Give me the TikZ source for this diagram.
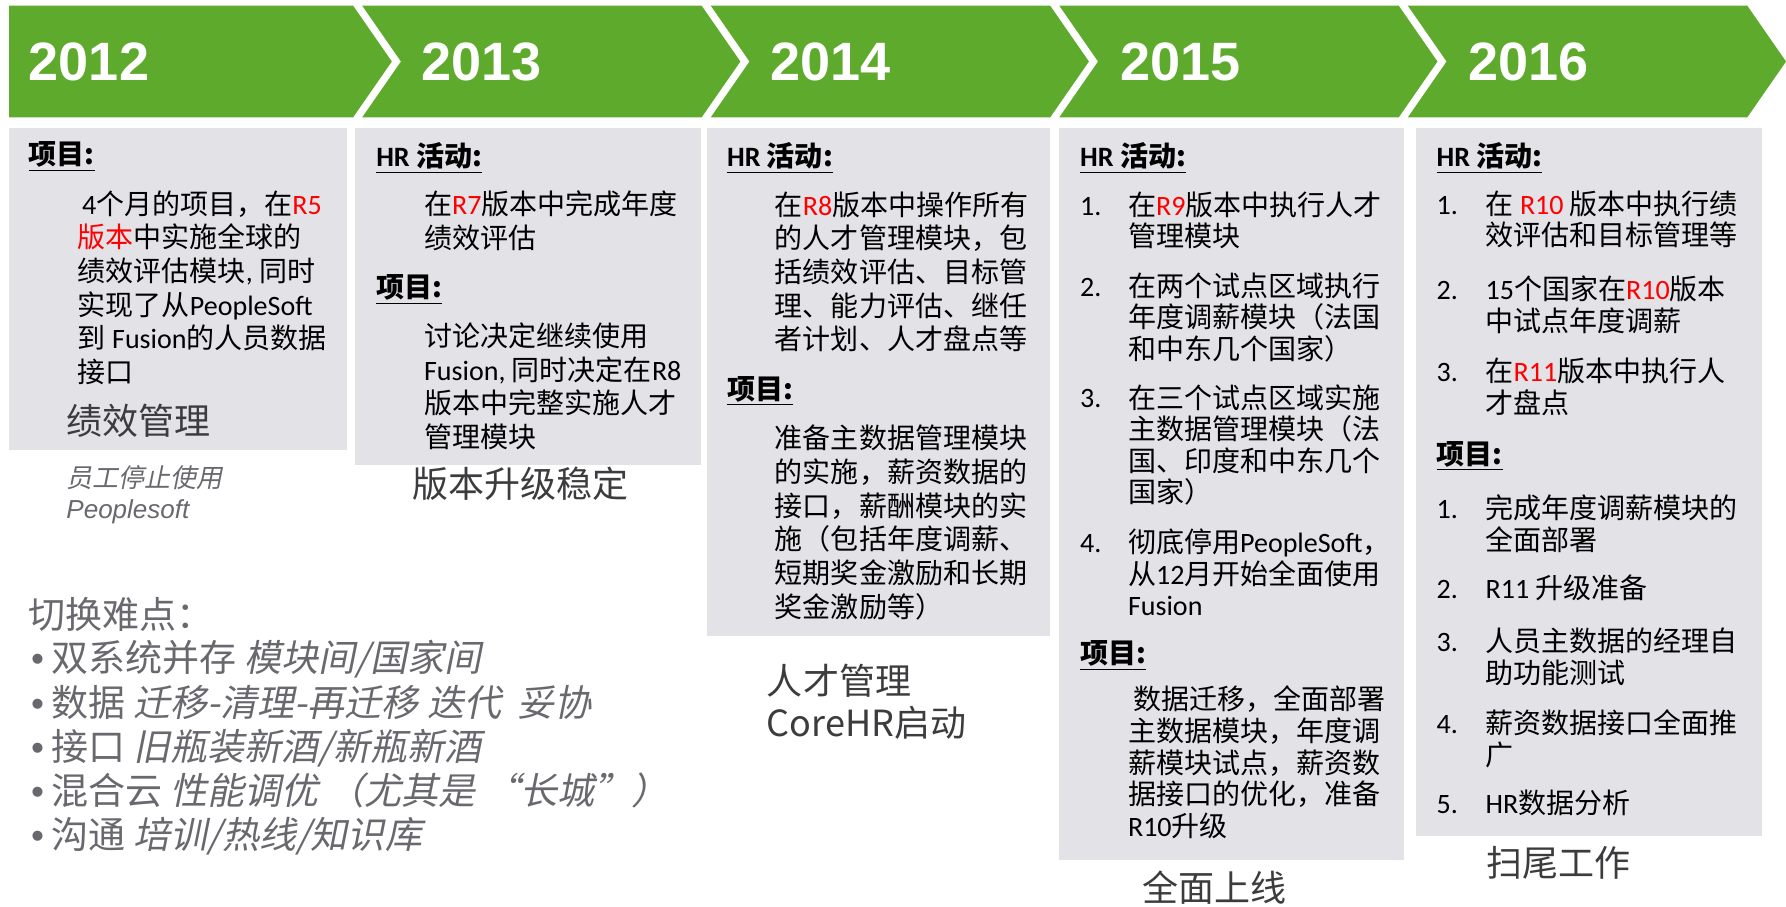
\documentclass[tikz,border=0pt]{standalone}
\usepackage{fontspec}
\usepackage{xcolor}
\setmainfont{Noto Sans CJK SC}
\newfontfamily\xieti[FakeSlant=0.2]{Noto Sans CJK SC}
\newfontfamily\calibri{Carlito}
\newfontfamily\arial{Liberation Sans}
\definecolor{lvse}{RGB}{94,170,44}
\definecolor{huise}{RGB}{226,226,231}
\definecolor{shenhui}{RGB}{60,60,62}
\definecolor{qianhui}{RGB}{104,104,110}
\newcommand{\en}[1]{{\calibri #1}}
\newcommand{\hong}[1]{{\color{red}#1}}
\newcommand{\rel}[1]{{\color{red}\calibri #1}}
\newcommand{\hao}[1]{\vphantom{在}{\calibri #1}}
\newcommand{\dian}{{\arial•}\hspace{0.2em}}

\begin{document}
\begin{tikzpicture}[x=0.02cm,y=-0.02cm,
		nianfen/.style={anchor=west,inner sep=0pt,text=white,font=\arial\bfseries\fontsize{27}{30}\selectfont},
		wenzi/.style={anchor=north west,inner sep=0pt,align=left,font=\fontsize{14}{16.8}\selectfont},
		liebiao/.style={wenzi,font=\fontsize{14}{15.8}\selectfont},
		biaoti/.style={anchor=north west,inner sep=0pt,font=\fontsize{14}{16.8}\selectfont\bfseries},
		dazi/.style={anchor=north west,inner sep=0pt,align=left,text=shenhui,font=\fontsize{18}{21}\selectfont},
		nandian/.style={anchor=north west,inner sep=0pt,align=left,text=qianhui,font=\fontsize{18.5}{22.1}\selectfont}]
		\useasboundingbox (0,0) rectangle (1568,796);
		
		\fill[lvse] (8,5) -- (310,5) -- (344,54) -- (310,103) -- (8,103) -- cycle;
		\foreach \a in {318,624,930,1236}
			\fill[lvse] (\a,5) -- ++(298,0) -- ++(34,49) -- ++(-34,49) -- ++(-298,0) -- ++(34,-49) -- cycle;
		
		\fill[huise] (8,112) rectangle (305,395);
		\fill[huise] (312,112) rectangle (615,408);
		\fill[huise] (621,112) rectangle (922,558);
		\fill[huise] (930,112) rectangle (1233,755);
		\fill[huise] (1243,112) rectangle (1547,734);
		
		\node[nianfen] (n2012) at (25,54) {2012};
		\node[nianfen] (n2013) at (370,54) {2013};
		\node[nianfen] (n2014) at (676,54) {2014};
		\node[nianfen] (n2015) at (983,54) {2015};
		\node[nianfen] (n2016) at (1289,54) {2016};
		
		\node[biaoti] (xm12) at (25,124) {\underline{项目:}};
		\node[wenzi] (xmwz12) at (68,167) {\hspace{0.15em}\en{4}个月的项目，在\rel{R5}\\\hong{版本}中实施全球的\\绩效评估模块\en{, }同时\\实现了从\en{PeopleSoft}\\到 \en{Fusion}的人员数据\\接口};
		\node[dazi] (jg12) at (58,354) {绩效管理};
		\node[anchor=north west,inner sep=0pt,align=left,text=qianhui,font=\fontsize{13}{15.9}\selectfont] (bz12) at (58,408) {{\xieti 员工停止使用}\\{\arial\itshape Peoplesoft}};
		
		\node[biaoti] (hr13) at (330,125) {\underline{\en{HR} 活动:}};
		\node[wenzi] (hrwz13) at (372,167) {在\rel{R7}版本中完成年度\\绩效评估};
		\node[biaoti] (xm13) at (330,241) {\underline{项目:}};
		\node[wenzi] (xmwz13) at (372,283) {讨论决定继续使用\\\en{Fusion, }同时决定在\en{R8}\\版本中完整实施人才\\管理模块};
		\node[dazi] (jg13) at (362,410) {版本升级稳定};
		
		\node[biaoti] (hr14) at (638,125) {\underline{\en{HR} 活动:}};
		\node[wenzi] (hrwz14) at (680,168) {在\rel{R8}版本中操作所有\\的人才管理模块，包\\括绩效评估、目标管\\理、能力评估、继任\\者计划、人才盘点等};
		\node[biaoti] (xm14) at (638,330) {\underline{项目:}};
		\node[wenzi] (xmwz14) at (680,373) {准备主数据管理模块\\的实施，薪资数据的\\接口，薪酬模块的实\\施（包括年度调薪、\\短期奖金激励和长期\\奖金激励等）};
		\node[dazi] (jg14) at (673,583) {人才管理\\CoreHR启动};
		
		\node[biaoti] (hr15) at (948,125) {\underline{\en{HR} 活动:}};
		\node[liebiao] (h15a) at (948,168) {\hao{1.}};
		\node[liebiao] (h15b) at (948,239) {\hao{2.}};
		\node[liebiao] (h15c) at (948,337) {\hao{3.}};
		\node[liebiao] (h15d) at (948,464) {\hao{4.}};
		\node[liebiao] (hw15a) at (990,168) {在\rel{R9}版本中执行人才\\管理模块};
		\node[liebiao] (hw15b) at (990,239) {在两个试点区域执行\\年度调薪模块（法国\\和中东几个国家）};
		\node[liebiao] (hw15c) at (990,337) {在三个试点区域实施\\主数据管理模块（法\\国、印度和中东几个\\国家）};
		\node[liebiao] (hw15d) at (990,464) {彻底停用\en{PeopleSoft}，\\从\en{12}月开始全面使用\\\en{Fusion}};
		\node[biaoti] (xm15) at (948,562) {\underline{项目:}};
		\node[liebiao] (xmwz15) at (990,602) {\hspace{0.2em}数据迁移，全面部署\\主数据模块，年度调\\薪模块试点，薪资数\\据接口的优化，准备\\\en{R10}升级};
		\node[dazi] (jg15) at (1003,764) {全面上线};
		
		\node[biaoti] (hr16) at (1261,125) {\underline{\en{HR} 活动:}};
		\node[liebiao] (h16a) at (1261,167) {\hao{1.}};
		\node[liebiao] (h16b) at (1261,242) {\hao{2.}};
		\node[liebiao] (h16c) at (1261,314) {\hao{3.}};
		\node[liebiao] (hw16a) at (1304,167) {在 \rel{R10} 版本中执行绩\\效评估和目标管理等};
		\node[liebiao] (hw16b) at (1304,242) {\en{15}个国家在\rel{R10}版本\\中试点年度调薪};
		\node[liebiao] (hw16c) at (1304,314) {在\rel{R11}版本中执行人\\才盘点};
		\node[biaoti] (xm16) at (1261,387) {\underline{项目:}};
		\node[liebiao] (x16a) at (1261,434) {\hao{1.}};
		\node[liebiao] (x16b) at (1261,504) {\hao{2.}};
		\node[liebiao] (x16c) at (1261,551) {\hao{3.}};
		\node[liebiao] (x16d) at (1261,623) {\hao{4.}};
		\node[liebiao] (x16e) at (1261,693) {\hao{5.}};
		\node[liebiao] (xw16a) at (1304,434) {完成年度调薪模块的\\全面部署};
		\node[liebiao] (xw16b) at (1304,504) {\en{R11} 升级准备};
		\node[liebiao] (xw16c) at (1304,551) {人员主数据的经理自\\助功能测试};
		\node[liebiao] (xw16d) at (1304,623) {薪资数据接口全面推\\广};
		\node[liebiao] (xw16e) at (1304,693) {\en{HR}数据分析};
		\node[dazi] (jg16) at (1305,743) {扫尾工作};
		
		\node[nandian] (nd) at (25,524) {切换难点：};
		\node[nandian] (ndlb) at (27,562) {\dian 双系统并存 {\xieti 模块间/国家间}\\\dian 数据 {\xieti 迁移-清理-再迁移 迭代\ \ 妥协}\\\dian 接口 {\xieti 旧瓶装新酒/新瓶新酒}\\\dian 混合云 {\xieti 性能调优 （尤其是 “长城”）}\\\dian 沟通 {\xieti 培训/热线/知识库}};
	\end{tikzpicture}
\end{document}
